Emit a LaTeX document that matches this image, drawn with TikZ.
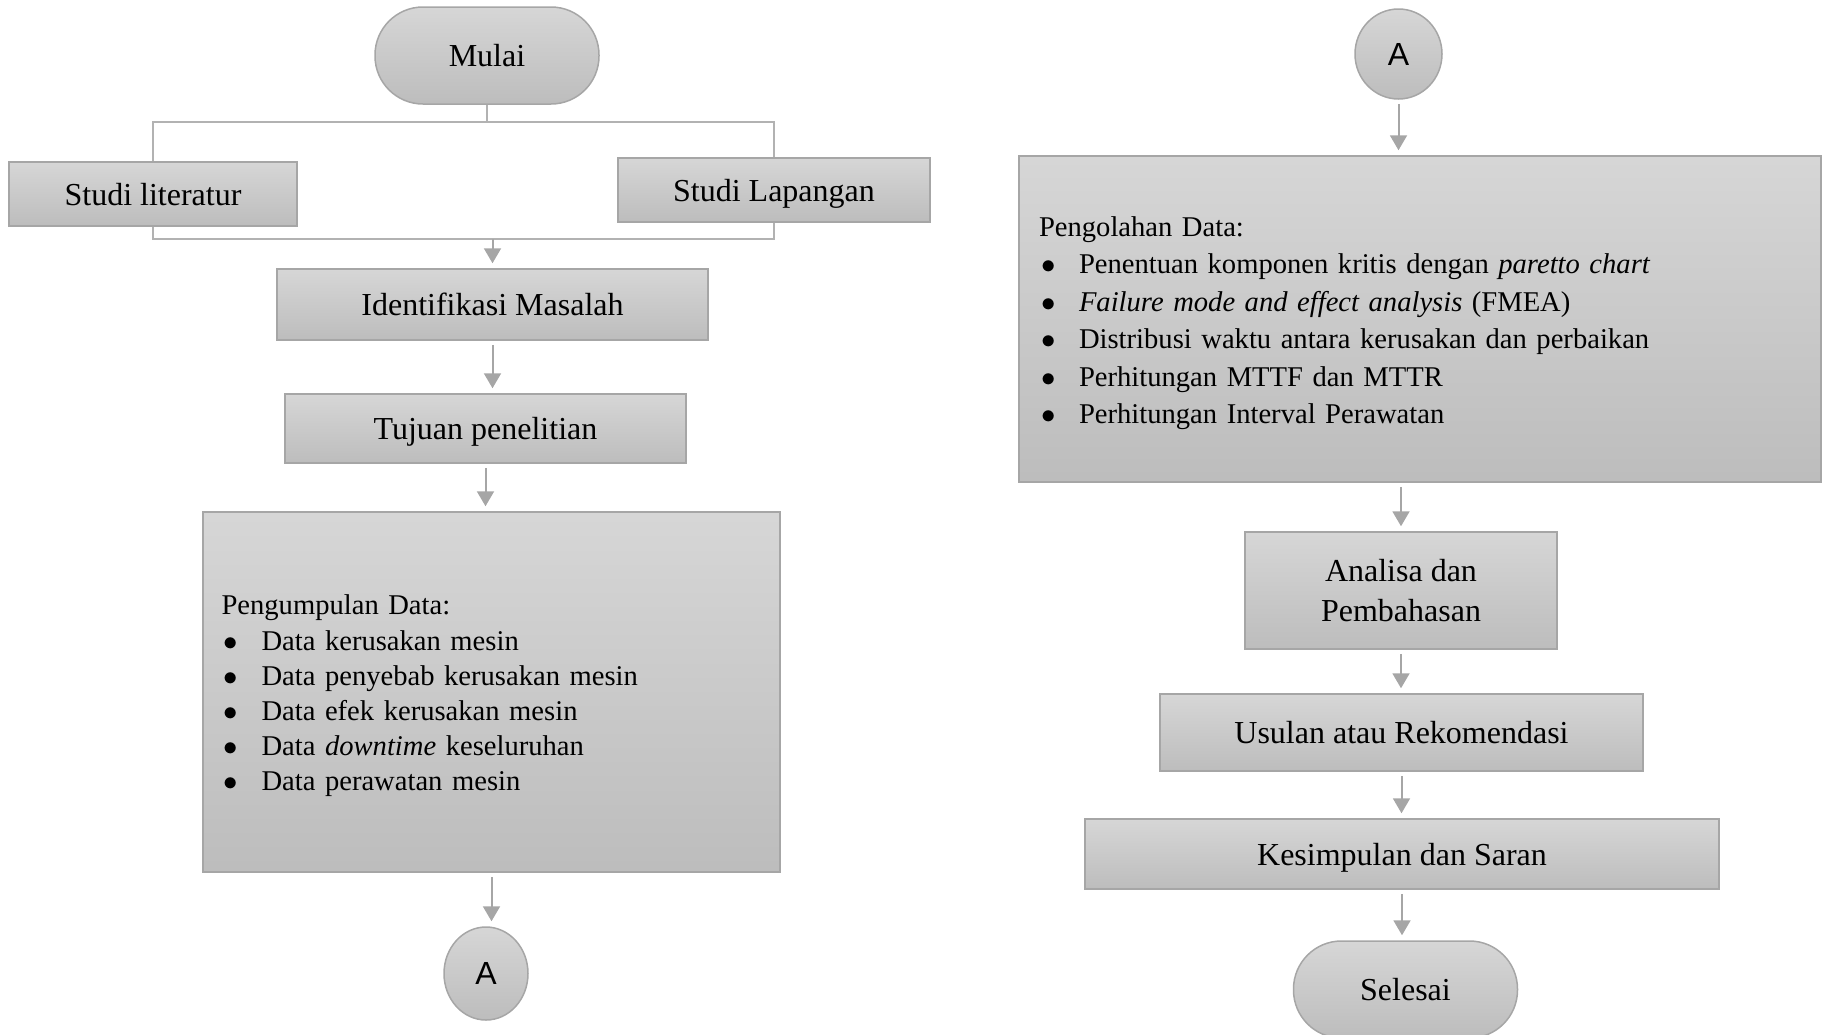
\documentclass[tikz,border=0pt]{standalone}
\usepackage{fontspec}
\setmainfont{Liberation Serif}
\newfontfamily\arialfont{Liberation Sans}
\usetikzlibrary{arrows.meta,shapes.geometric}
\newcommand{\butir}{\makebox[20pt][l]{\hspace{1pt}$\bullet$}}

\begin{document}
\begin{tikzpicture}[x=0.5pt, y=-0.5pt,
    box/.style={draw=black!35, line width=0.75pt, top color=black!16, bottom color=black!26, font=\fontsize{16}{20.4}\selectfont, align=center, inner sep=0pt},
    kotak/.style={box, text depth=0pt},
    daftar/.style={box, align=left, font=\fontsize{14.3}{#1}\selectfont},
    term/.style={kotak, rounded corners=24pt, minimum width=112pt, minimum height=48.5pt},
    konektor/.style={ellipse, draw=black!35, line width=0.75pt, top color=black!16, bottom color=black!26, font=\arialfont\fontsize{16}{19}\selectfont, inner sep=0pt},
    garis/.style={draw=black!30, line width=0.6pt},
    panah/.style={draw=black!35, line width=1pt, -{Triangle[length=7.5pt,width=8.5pt]}, shorten <=2pt, shorten >=2.5pt}]
  \useasboundingbox (0,0) rectangle (1826,1034);

  \node[term] (mulai) at (487,55.5) {Mulai};
  \node[kotak, minimum width=144pt, minimum height=32pt] (studilit) at (153,194) {Studi literatur};
  \node[kotak, minimum width=156pt, minimum height=32pt] (studilap) at (774,190) {Studi Lapangan};
  \node[kotak, minimum width=215.5pt, minimum height=35.5pt] (identifikasi) at (492.5,304.5) {Identifikasi Masalah};
  \node[kotak, minimum width=200.5pt, minimum height=34.5pt] (tujuan) at (485.5,428.5) {Tujuan penelitian};
  \node[daftar=17.6, minimum width=288.5pt, minimum height=180pt, text width=270pt] (kumpul) at (491.5,692) {\rule{0pt}{14pt}Pengumpulan Data:\\
    \butir Data kerusakan mesin\\
    \butir Data penyebab kerusakan mesin\\
    \butir Data efek kerusakan mesin\\
    \butir Data \textit{downtime} keseluruhan\\
    \butir Data perawatan mesin};
  \node[konektor, minimum width=42pt, minimum height=46.5pt] (akiri) at (486,973.5) {A};

  \node[konektor, minimum width=43.5pt, minimum height=45pt] (akanan) at (1398.5,54) {A};
  \node[daftar=18.75, minimum width=401pt, minimum height=163pt, text width=381pt] (olah) at (1420,319) {\rule{0pt}{14pt}Pengolahan Data:\\
    \butir Penentuan komponen kritis dengan \textit{paretto chart}\\
    \butir \textit{Failure mode and effect analysis} (FMEA)\\
    \butir Distribusi waktu antara kerusakan dan perbaikan\\
    \butir Perhitungan MTTF dan MTTR\\
    \butir Perhitungan Interval Perawatan};
  \node[box, minimum width=156pt, minimum height=58.5pt] (analisa) at (1401,590.5) {Analisa dan\\ Pembahasan};
  \node[kotak, minimum width=241.5pt, minimum height=38.5pt] (usulan) at (1401.5,732.5) {Usulan atau Rekomendasi};
  \node[kotak, minimum width=317pt, minimum height=35pt] (kesimpulan) at (1402,854) {Kesimpulan dan Saran};
  \node[term] (selesai) at (1405.5,989.5) {Selesai};

  \coordinate (cabang) at (487,122);
  \coordinate (gabung) at (492.5,239);
  \draw[garis] (mulai) -- (cabang);
  \draw[garis] (cabang) -| (studilit);
  \draw[garis] (cabang) -| (studilap);
  \draw[garis] (studilit) |- (gabung);
  \draw[garis] (studilap) |- (gabung);
  \draw[panah, shorten <=0pt] (gabung) -- (identifikasi);
  \draw[panah] (identifikasi) -- (identifikasi |- tujuan.north);
  \draw[panah] (tujuan) -- (tujuan |- kumpul.north);
  \draw[panah] (kumpul) -- (kumpul |- akiri.north);

  \draw[panah] (akanan) -- (akanan |- olah.north);
  \draw[panah] (olah.south -| analisa) -- (analisa);
  \draw[panah] (analisa) -- (analisa |- usulan.north);
  \draw[panah] (usulan) -- (usulan |- kesimpulan.north);
  \draw[panah] (kesimpulan) -- (kesimpulan |- selesai.north);
\end{tikzpicture}
\end{document}
